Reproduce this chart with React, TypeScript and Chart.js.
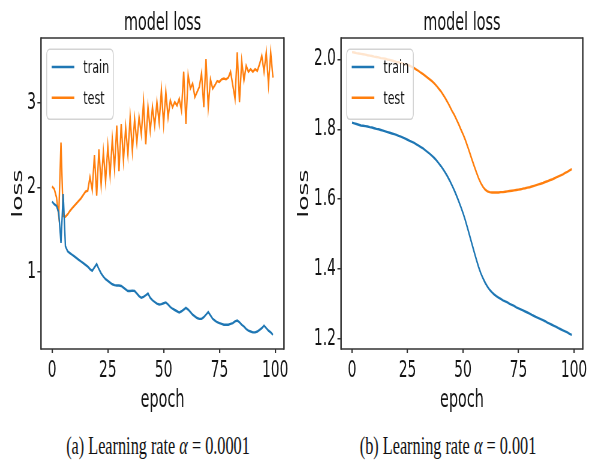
import React, { useEffect, useRef } from "react";
import { Chart, registerables } from "chart.js";

Chart.register(...registerables);

// ---------- data ----------
const epochs = Array.from({ length: 100 }, (_, i) => i);
const xTicks = [0, 25, 50, 75, 100];
const leftYTicks = [1, 2, 3];
const rightYTicks = [1.2, 1.4, 1.6, 1.8, 2.0];
const seriesLabels = ["train", "test"];
const chartTitle = "model loss";
const xLabel = "epoch";
const yLabel = "loss";
const captionA = "0.0001";
const captionB = "0.001";

// (a) learning rate 0.0001
const trainA = [
  1.83, 1.8, 1.78, 1.7, 1.34, 1.92, 1.3, 1.24, 1.22, 1.2,
  1.18, 1.16, 1.14, 1.12, 1.1, 1.08, 1.06, 1.03, 1.01, 1.05,
  1.09, 1.03, 0.98, 0.94, 0.91, 0.89, 0.87, 0.85, 0.84, 0.835,
  0.835, 0.83, 0.81, 0.79, 0.77, 0.77, 0.775, 0.77, 0.74, 0.71,
  0.69, 0.7, 0.72, 0.74, 0.69, 0.66, 0.64, 0.62, 0.61, 0.615,
  0.625, 0.635, 0.61, 0.58, 0.56, 0.545, 0.53, 0.515, 0.53, 0.55,
  0.57, 0.55, 0.52, 0.49, 0.47, 0.45, 0.44, 0.44, 0.46, 0.49,
  0.52, 0.48, 0.44, 0.42, 0.4, 0.39, 0.38, 0.37, 0.37, 0.37,
  0.38, 0.39, 0.41, 0.42, 0.4, 0.37, 0.35, 0.32, 0.3, 0.29,
  0.28, 0.28, 0.29, 0.31, 0.33, 0.36, 0.33, 0.3, 0.28, 0.25,
];
const testA = [
  2.01, 1.98, 1.88, 1.66, 2.53, 1.66, 1.65, 1.68, 1.72, 1.75,
  1.78, 1.81, 1.84, 1.87, 1.91, 1.95, 1.96, 2.12, 1.97, 2.38,
  1.9, 2.45, 2.03, 2.42, 2.07, 2.49, 2.14, 2.57, 2.22, 2.73,
  2.19, 2.75, 2.32, 2.71, 2.39, 2.83, 2.43, 2.81, 2.53, 2.83,
  2.63, 3.01, 2.51, 2.95, 2.67, 2.95, 2.73, 3.01, 2.77, 3.15,
  2.75, 3.13, 2.83, 3.03, 2.95, 3.01, 2.97, 3.05, 2.91, 3.37,
  2.75, 3.33, 3.17, 3.23, 3.07, 3.13, 3.19, 3.35, 2.95, 3.52,
  2.95, 3.28, 3.17, 3.21, 3.26, 3.25, 3.28, 3.29, 3.28, 3.3,
  3.37, 3.21, 3.05, 3.6, 3.01, 3.5, 3.27, 3.44, 3.37, 3.4,
  3.37, 3.4, 3.38, 3.46, 3.56, 3.37, 3.6, 3.22, 3.6, 3.3,
];

// (b) learning rate 0.001
const trainB = [
  1.819, 1.817, 1.815, 1.813, 1.811, 1.81, 1.809, 1.808, 1.806, 1.805,
  1.803, 1.801, 1.8, 1.798, 1.796, 1.794, 1.792, 1.79, 1.788, 1.786,
  1.784, 1.781, 1.779, 1.776, 1.773, 1.77, 1.767, 1.764, 1.761, 1.757,
  1.753, 1.749, 1.745, 1.74, 1.735, 1.73, 1.724, 1.718, 1.711, 1.703,
  1.695, 1.686, 1.676, 1.665, 1.653, 1.64, 1.626, 1.611, 1.595, 1.578,
  1.56, 1.54, 1.518, 1.495, 1.472, 1.449, 1.427, 1.406, 1.388, 1.373,
  1.36, 1.349, 1.34, 1.333, 1.327, 1.322, 1.318, 1.314, 1.31, 1.307,
  1.304, 1.3, 1.297, 1.294, 1.29, 1.287, 1.284, 1.281, 1.278, 1.275,
  1.272, 1.268, 1.265, 1.262, 1.259, 1.256, 1.253, 1.25, 1.246, 1.243,
  1.24, 1.237, 1.234, 1.23, 1.227, 1.224, 1.221, 1.218, 1.214, 1.211,
];
const testB = [
  2.021, 2.02, 2.018, 2.017, 2.016, 2.015, 2.014, 2.012, 2.011, 2.01,
  2.008, 2.007, 2.006, 2.004, 2.003, 2.002, 2.0, 1.999, 1.997, 1.995,
  1.993, 1.992, 1.99, 1.988, 1.986, 1.985, 1.982, 1.979, 1.975, 1.971,
  1.967, 1.962, 1.958, 1.953, 1.948, 1.943, 1.938, 1.932, 1.925, 1.917,
  1.909, 1.899, 1.889, 1.878, 1.866, 1.853, 1.842, 1.829, 1.815, 1.8,
  1.786, 1.77, 1.752, 1.733, 1.714, 1.695, 1.677, 1.66, 1.646, 1.635,
  1.627, 1.622, 1.62, 1.619, 1.619, 1.619, 1.619, 1.62, 1.62, 1.621,
  1.622, 1.623, 1.624, 1.625, 1.626, 1.627, 1.628, 1.63, 1.631, 1.633,
  1.634, 1.636, 1.638, 1.64, 1.642, 1.644, 1.646, 1.649, 1.651, 1.654,
  1.656, 1.659, 1.662, 1.665, 1.668, 1.671, 1.675, 1.678, 1.682, 1.686,
];

// ---------- styling ----------
const SX = 0.6; // horizontal squeeze of the figure
const CW = 492;
const CH = 420;
const BLUE = "#1f77b4";
const ORANGE = "#ff7f0e";
const FAMILY = "'DejaVu Sans', sans-serif";
const TEXT = "#151515";
const SPINE = "#333333";

const frameLegendPlugin = {
  id: "frameLegend",
  afterDatasetsDraw(chart: any) {
    const { ctx, chartArea: a } = chart;
    ctx.save();
    ctx.strokeStyle = SPINE;
    ctx.lineWidth = 1.5;
    ctx.beginPath();
    ctx.moveTo(a.left, a.top);
    ctx.lineTo(a.right, a.top);
    ctx.moveTo(a.left, a.bottom);
    ctx.lineTo(a.right, a.bottom);
    ctx.stroke();
    ctx.lineWidth = 2.5;
    ctx.beginPath();
    ctx.moveTo(a.left, a.top - 0.75);
    ctx.lineTo(a.left, a.bottom + 0.75);
    ctx.moveTo(a.right, a.top - 0.75);
    ctx.lineTo(a.right, a.bottom + 0.75);
    ctx.stroke();

    // legend box
    const bx = a.left + 9.5;
    const by = a.top + 11.3;
    const bw = 111;
    const bh = 70;
    ctx.beginPath();
    if ((ctx as any).roundRect) ctx.roundRect(bx, by, bw, bh, 5);
    else ctx.rect(bx, by, bw, bh);
    ctx.fillStyle = "rgba(255,255,255,0.8)";
    ctx.fill();
    ctx.strokeStyle = "#d4d4d4";
    ctx.lineWidth = 1.6;
    ctx.stroke();
    chart.data.datasets.forEach((ds: any, i: number) => {
      const y = by + 17.7 + i * 30.7;
      ctx.strokeStyle = ds.borderColor;
      ctx.lineWidth = 2.6;
      ctx.beginPath();
      ctx.moveTo(bx + 8.3, y);
      ctx.lineTo(bx + 46, y);
      ctx.stroke();
      ctx.fillStyle = TEXT;
      ctx.font = `18.5px ${FAMILY}`;
      ctx.textBaseline = "middle";
      ctx.textAlign = "left";
      ctx.fillText(ds.label, bx + 61, y + 1.5);
    });
    ctx.restore();
  },
};

function makeConfig(
  train: number[],
  test: number[],
  yMin: number,
  yMax: number,
  yTicks: number[],
  yFmt: (v: number) => string,
  yAxisWidth: number,
  yTitlePad: number,
  rightPad: number
): any {
  return {
    type: "line",
    data: {
      datasets: [
        {
          label: seriesLabels[0],
          data: epochs.map((e, i) => ({ x: e, y: train[i] })),
          borderColor: BLUE,
          backgroundColor: BLUE,
          borderWidth: 2.4,
          pointRadius: 0,
          tension: 0,
          fill: false,
        },
        {
          label: seriesLabels[1],
          data: epochs.map((e, i) => ({ x: e, y: test[i] })),
          borderColor: ORANGE,
          backgroundColor: ORANGE,
          borderWidth: 2.4,
          pointRadius: 0,
          tension: 0,
          fill: false,
        },
      ],
    },
    options: {
      animation: false,
      responsive: false,
      devicePixelRatio: 1,
      events: [],
      layout: { padding: { left: 0, right: rightPad, top: 0, bottom: 0 } },
      plugins: {
        legend: { display: false },
        tooltip: { enabled: false },
        title: {
          display: true,
          text: chartTitle,
          fullSize: false,
          color: TEXT,
          font: { family: FAMILY, size: 24, weight: "normal", lineHeight: 1.2 },
          padding: { top: 9.2, bottom: 0 },
        },
      },
      scales: {
        x: {
          type: "linear",
          min: -4.95,
          max: 103.95,
          afterBuildTicks: (s: any) => {
            s.ticks = xTicks.map((v) => ({ value: v }));
          },
          afterFit: (s: any) => {
            s.height = CH - 349;
          },
          border: { display: false },
          grid: {
            display: true,
            drawOnChartArea: false,
            drawTicks: true,
            tickLength: 4,
            color: SPINE,
            lineWidth: 2.2,
          },
          ticks: {
            color: TEXT,
            padding: 4.6,
            maxRotation: 0,
            autoSkip: false,
            font: { family: FAMILY, size: 23, lineHeight: 1.2 },
            callback: (v: any) => String(v),
          },
          title: {
            display: true,
            text: xLabel,
            color: TEXT,
            font: { family: FAMILY, size: 24, lineHeight: 1.2 },
            padding: { top: 0, bottom: 4.6 },
          },
        },
        y: {
          type: "linear",
          min: yMin,
          max: yMax,
          afterBuildTicks: (s: any) => {
            s.ticks = yTicks.map((v) => ({ value: v }));
          },
          afterFit: (s: any) => {
            s.width = yAxisWidth;
          },
          border: { display: false },
          grid: {
            display: true,
            drawOnChartArea: false,
            drawTicks: true,
            tickLength: 6,
            color: SPINE,
            lineWidth: 1.5,
          },
          ticks: {
            color: TEXT,
            padding: 2.5,
            autoSkip: false,
            font: { family: FAMILY, size: 23, lineHeight: 1.2 },
            callback: (v: any) => yFmt(Number(v)),
          },
          title: {
            display: true,
            text: yLabel,
            color: TEXT,
            font: { family: FAMILY, size: 25, lineHeight: 1 },
            padding: { top: yTitlePad, bottom: 0 },
          },
        },
      },
    },
    plugins: [frameLegendPlugin],
  };
}

function LossChart({ left, config }: { left: number; config: () => any }) {
  const ref = useRef<HTMLCanvasElement | null>(null);
  useEffect(() => {
    if (!ref.current) return;
    const chart = new Chart(ref.current, config());
    return () => chart.destroy();
  }, []);
  return (
    <div
      style={{
        position: "absolute",
        left,
        top: 0,
        width: 295,
        height: CH,
        overflow: "hidden",
      }}
    >
      <canvas
        ref={ref}
        width={CW}
        height={CH}
        style={{
          display: "block",
          width: CW,
          height: CH,
          transform: `scaleX(${SX})`,
          transformOrigin: "0 0",
        }}
      />
    </div>
  );
}

const captionStyle = (left: number): React.CSSProperties => ({
  position: "absolute",
  left,
  top: 433,
  width: 300,
  textAlign: "center",
  whiteSpace: "nowrap",
  fontFamily: "'Liberation Serif', 'Times New Roman', serif",
  fontSize: 25,
  lineHeight: "25px",
  color: "#111",
  transform: "scaleX(0.65)",
  transformOrigin: "50% 50%",
});

export default function App() {
  return (
    <div
      style={{
        position: "absolute",
        left: 0,
        top: 0,
        width: 590,
        height: 464,
        background: "#ffffff",
        overflow: "hidden",
      }}
    >
      <LossChart
        left={0}
        config={() =>
          makeConfig(trainA, testA, 0.0825, 3.77, leftYTicks, (v) => String(v), 68.3, 18, 18.7)
        }
      />
      <LossChart
        left={295}
        config={() =>
          makeConfig(trainB, testB, 1.1705, 2.0615, rightYTicks, (v) => v.toFixed(1), 76.7, 2.5, 12)
        }
      />
      <div style={captionStyle(8)}>
        (a) Learning rate <i>α</i> = {captionA}
      </div>
      <div style={captionStyle(298)}>
        (b) Learning rate <i>α</i> = {captionB}
      </div>
    </div>
  );
}
